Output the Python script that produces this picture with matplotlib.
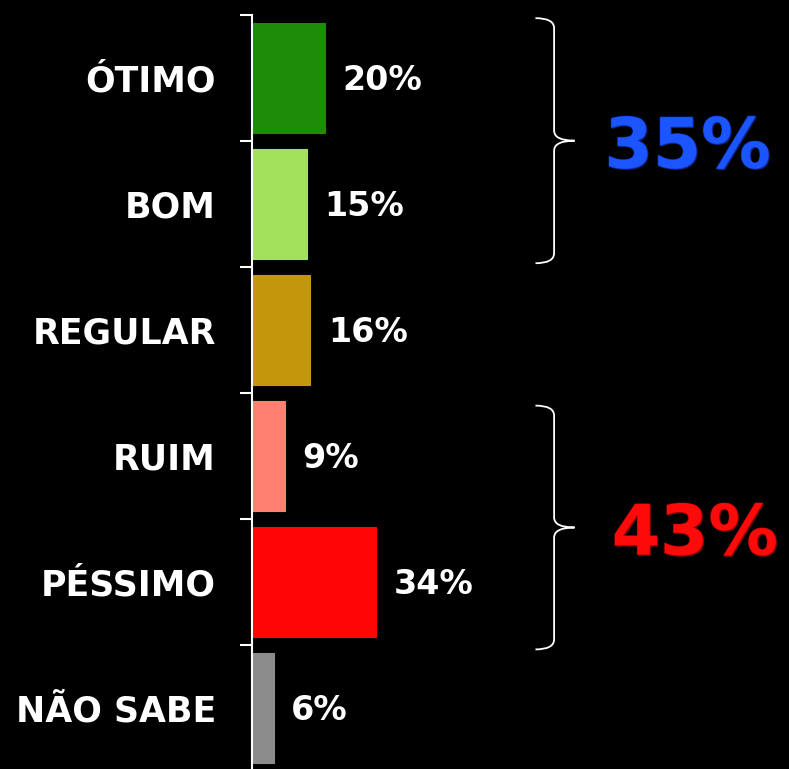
import matplotlib
matplotlib.use("Agg")
import matplotlib.pyplot as plt
from matplotlib.path import Path
from matplotlib.patches import PathPatch
import matplotlib.patheffects as pe

categories = ["ÓTIMO", "BOM", "REGULAR", "RUIM", "PÉSSIMO", "NÃO SABE"]
values = [20, 15, 16, 9, 34, 6]
colors = ["#1e8c06", "#a3e05c", "#c4960a", "#ff8070", "#ff0505", "#8c8c8c"]
value_labels = ["20%", "15%", "16%", "9%", "34%", "6%"]

group_labels = ["35%", "43%"]
group_ranges = [(0, 1), (3, 4)]
group_colors = ["#1a55ff", "#ff0a0a"]
group_dark = ["#0a2a99", "#8a0000"]

W, H = 789, 769
fig = plt.figure(figsize=(W / 100, H / 100), dpi=100, facecolor="black")
ax = fig.add_axes([252 / W, (H - 771) / H, (W - 252) / W, 756 / H])
ax.set_facecolor("black")

n = len(categories)
ypos = list(range(n))
for i, (v, c) in enumerate(zip(values, colors)):
    ax.barh(i, v, height=0.88, color=c, edgecolor=c, linewidth=0.8, zorder=2)
    ax.annotate(value_labels[i], xy=(v, i), xytext=(12.5, -2), textcoords="offset points",
                ha="left", va="center", color="white", fontsize=24, fontweight="bold",
                family="DejaVu Sans")

ax.set_ylim(n - 0.5, -0.5)
ax.set_xlim(0, 147)

for s in ["top", "right", "bottom"]:
    ax.spines[s].set_visible(False)
ax.spines["left"].set_color("white")
ax.spines["left"].set_linewidth(1.5)

ax.set_xticks([])
ax.set_yticks([i - 0.5 for i in range(n)])
ax.set_yticklabels([])
ax.tick_params(axis="y", which="major", length=8.6, width=1.5, color="white", direction="out")
ax.set_yticks(ypos, minor=True)
ax.set_yticklabels(categories, minor=True)
ax.tick_params(axis="y", which="minor", length=0, pad=26, labelcolor="white", labelsize=25)
for t in ax.get_yticklabels(minor=True):
    t.set_fontweight("bold")
    t.set_family("DejaVu Sans")

def brace(ax, y_top, y_bot, x_left, x_vert, x_tip, dy=0.08):
    y_mid = (y_top + y_bot) / 2
    verts = [
        (x_left, y_top), (x_vert, y_top), (x_vert, y_top + dy),
        (x_vert, y_mid - dy), (x_vert, y_mid), (x_tip, y_mid),
        (x_vert, y_mid), (x_vert, y_mid + dy),
        (x_vert, y_bot - dy), (x_vert, y_bot), (x_left, y_bot),
    ]
    codes = [Path.MOVETO, Path.CURVE3, Path.CURVE3,
             Path.LINETO, Path.CURVE3, Path.CURVE3,
             Path.CURVE3, Path.CURVE3,
             Path.LINETO, Path.CURVE3, Path.CURVE3]
    p = PathPatch(Path(verts, codes), fill=False, edgecolor="white", linewidth=1.3,
                  clip_on=False, zorder=3)
    ax.add_patch(p)
    return y_mid

offsets = [(0.025, -0.03), (0.1, 0.035)]
for (a, b), lab, col, dk, (o1, o2), xt in zip(group_ranges, group_labels, group_colors,
                                              group_dark, offsets, [96.5, 98.5]):
    ym = brace(ax, a - 0.5 + o1, b + 0.5 + o2, 77.6, 82.7, 88.3)
    ax.text(xt, ym + 0.06, lab, color=col, fontsize=50, fontweight="bold",
            ha="left", va="center", family="DejaVu Sans",
            path_effects=[pe.withSimplePatchShadow(offset=(0.8, -0.8), shadow_rgbFace=dk, alpha=1),
                          pe.Stroke(linewidth=0.8, foreground=dk), pe.Normal()])

fig.savefig("out.png", dpi=100, facecolor="black")
